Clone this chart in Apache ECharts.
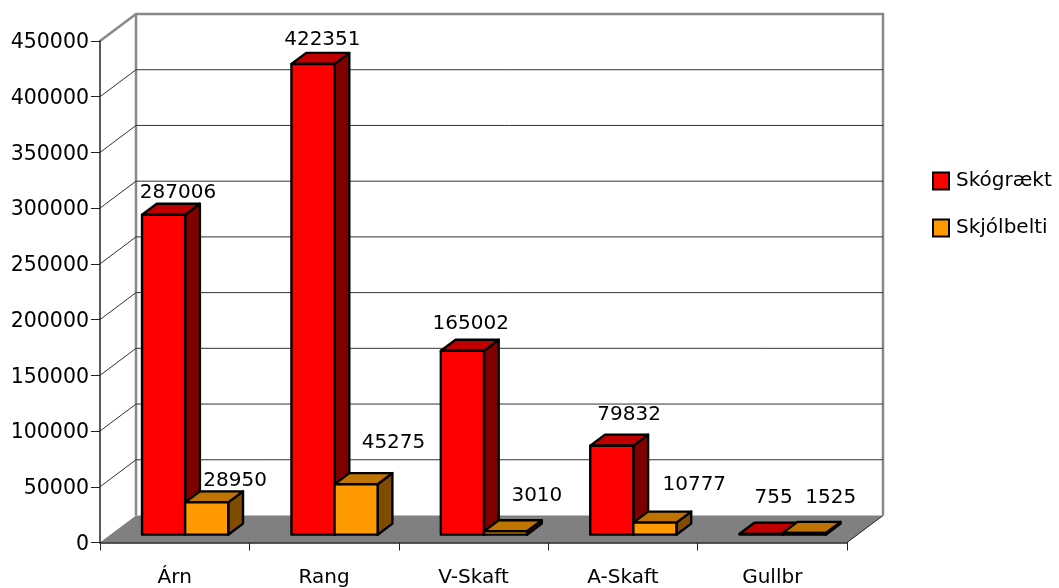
<!DOCTYPE html>
<html><head><meta charset="utf-8">
<style>html,body{margin:0;padding:0;background:#fff}#c{width:1059px;height:588px}</style>
<script src="https://cdn.jsdelivr.net/npm/echarts@6/dist/echarts.min.js"></script>
</head><body><div id="c"></div>
<script>
const categories = ['Árn', 'Rang', 'V-Skaft', 'A-Skaft', 'Gullbr'];
const skograekt = [287006, 422351, 165002, 79832, 755];
const skjolbelti = [28950, 45275, 3010, 10777, 1525];
const wallTicks = [50000, 100000, 150000, 200000, 250000, 300000, 350000, 400000];
const axisMax = 450000;
// label placement relative to the top-centre of each 3D bar (pixels)
const redNudge = [[7, -10.5], [2, -13], [1, -16], [10, -20], [5, -25]];
const orangeNudge = [[21, -11], [30, -30.5], [24, -24], [32, -27], [19, -24]];

const FONT = '"DejaVu Sans", sans-serif';
const WALL_X = 36, WALL_Y = 27;
const BAR_SHARE = 0.2885, D0 = 0.29, D1 = 0.70;

function boxRender(side, fills, nudges) {
  return function (params, api) {
    const i = api.value(0), v = api.value(1);
    const top = api.coord([i, v]), base = api.coord([i, 0]);
    const w = api.size([1, 0])[0] * BAR_SHARE;
    const x0 = top[0] + (side < 0 ? -w : 0) + WALL_X * D0;
    const x1 = x0 + w;
    const yT = top[1] - WALL_Y * D0, yB = base[1] - WALL_Y * D0;
    const dx = WALL_X * (D1 - D0), dy = WALL_Y * (D1 - D0);
    const st = { stroke: '#000', lineWidth: 2.4, lineJoin: 'round' };
    const poly = (pts, fill) => ({ type: 'polygon', shape: { points: pts }, style: Object.assign({ fill }, st) });
    const n = nudges[params.dataIndex];
    return { type: 'group', children: [
      poly([[x1, yT], [x1 + dx, yT - dy], [x1 + dx, yB - dy], [x1, yB]], fills[2]),
      poly([[x0, yT], [x0 + dx, yT - dy], [x1 + dx, yT - dy], [x1, yT]], fills[1]),
      poly([[x0, yT], [x1, yT], [x1, yB], [x0, yB]], fills[0]),
      { type: 'text', z2: 20, style: {
        text: String(v), x: (x0 + x1 + dx) / 2 + n[0], y: yT - dy + n[1],
        align: 'center', verticalAlign: 'middle', fill: '#000', font: '20px ' + FONT } }
    ]};
  };
}

function wallRender(params, api) {
  const cs = params.coordSys;
  const y = api.coord([0, api.value(0)])[1];
  const L = cs.x, R = cs.x + cs.width;
  return { type: 'polyline', shape: { points: [[L, y], [L + WALL_X, y - WALL_Y], [R + WALL_X, y - WALL_Y]] },
    style: { fill: 'none', stroke: '#333', lineWidth: 1 } };
}

function shellRender(params, api) {
  const cs = params.coordSys;
  const L = cs.x, R = cs.x + cs.width;
  const y0 = api.coord([0, 0])[1], yM = api.coord([0, axisMax])[1];
  const g = { stroke: '#888', lineWidth: 2.5, fill: 'none' };
  return { type: 'group', children: [
    { type: 'polygon', shape: { points: [[L, y0], [R, y0], [R + WALL_X, y0 - WALL_Y], [L + WALL_X, y0 - WALL_Y]] },
      style: { fill: '#808080', stroke: null } },
    { type: 'polyline', shape: { points: [[L, yM], [L + WALL_X, yM - WALL_Y], [R + WALL_X, yM - WALL_Y], [R + WALL_X, y0 - WALL_Y]] }, style: g },
    { type: 'line', shape: { x1: L + WALL_X, y1: yM - WALL_Y, x2: L + WALL_X, y2: y0 - WALL_Y }, style: g },
    { type: 'line', shape: { x1: R, y1: y0, x2: R + WALL_X, y2: y0 - WALL_Y }, style: { stroke: '#222', lineWidth: 1 } }
  ]};
}

const chart = echarts.init(document.getElementById('c'));
const pair = arr => arr.map((v, i) => [i, v]);
chart.setOption({
  animation: false,
  backgroundColor: '#fff',
  grid: { left: 100, right: 212, top: 41, bottom: 45.5, containLabel: false },
  legend: {
    show: true, orient: 'vertical', left: 932, top: 171, padding: 0, itemWidth: 16, itemHeight: 17, itemGap: 27,
    icon: 'rect', data: ['Skógrækt', 'Skjólbelti'],
    textStyle: { fontFamily: FONT, fontSize: 20, color: '#000', padding: [3, 0, 0, 2] },
    itemStyle: { borderColor: '#000', borderWidth: 2 }
  },
  xAxis: {
    type: 'category', data: categories, boundaryGap: true, z: 10,
    axisLine: { lineStyle: { color: '#222', width: 1.5 } },
    axisTick: { show: true, alignWithLabel: false, length: 8, lineStyle: { color: '#222', width: 1 } },
    axisLabel: { fontFamily: FONT, fontSize: 20, color: '#000', margin: 25 }
  },
  yAxis: {
    type: 'value', min: 0, max: axisMax, interval: 50000, z: 10,
    axisLine: { show: true, lineStyle: { color: '#222', width: 1.5 } },
    axisTick: { show: true, length: 9, lineStyle: { color: '#222', width: 1 } },
    axisLabel: { color: '#000', margin: 11, formatter: v => '{a|' + v + '}',
      rich: { a: { fontFamily: FONT, fontSize: 20.5, color: '#000', padding: [4, 0, 0, 0] } } },
    splitLine: { show: false }
  },
  series: [
    { type: 'custom', name: 'shell', z: 1, silent: true, clip: false, renderItem: shellRender, data: [[0]], encode: { x: -1, y: 0 } },
    { type: 'custom', name: 'walls', z: 2, silent: true, clip: false, renderItem: wallRender,
      data: wallTicks.map(v => [v]), encode: { x: -1, y: 0 } },
    { type: 'custom', name: 'Skógrækt', z: 3, clip: false, itemStyle: { color: '#ff0000' },
      renderItem: boxRender(-1, ['#ff0000', '#c00000', '#800000'], redNudge),
      data: pair(skograekt), encode: { x: 0, y: 1 } },
    { type: 'custom', name: 'Skjólbelti', z: 4, clip: false, itemStyle: { color: '#ff9900' },
      renderItem: boxRender(1, ['#ff9900', '#bf7300', '#7f4c00'], orangeNudge),
      data: pair(skjolbelti), encode: { x: 0, y: 1 } }
  ]
});
</script></body></html>
